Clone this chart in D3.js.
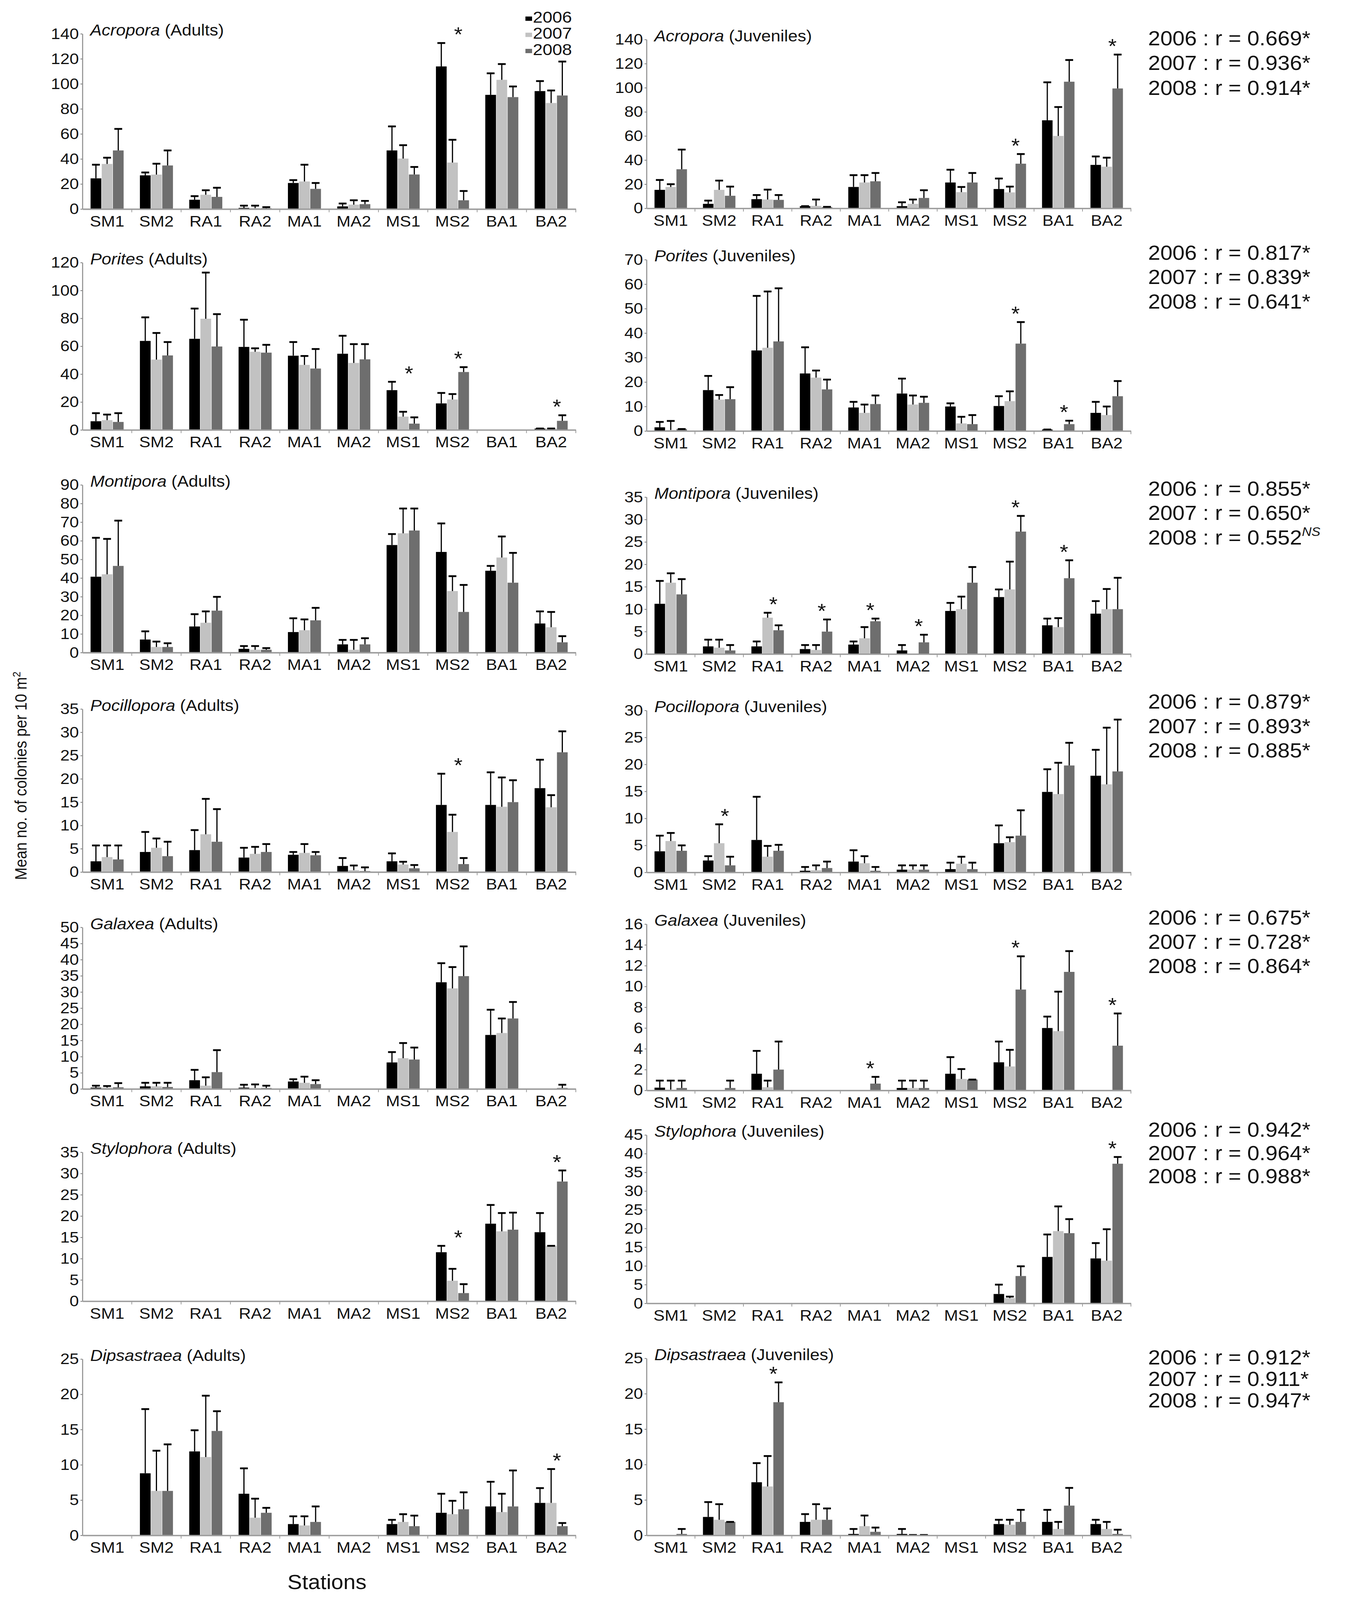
<!DOCTYPE html>
<html>
<head>
<meta charset="utf-8">
<script src="https://cdn.jsdelivr.net/npm/d3@7"></script>
<style>
  html, body { margin: 0; padding: 0; background: #fff; overflow: hidden; }
  svg { display: block; }
</style>
</head>
<body>
<script>
// stations, years, taxa
const stations = ['SM1', 'SM2', 'RA1', 'RA2', 'MA1', 'MA2', 'MS1', 'MS2', 'BA1', 'BA2'];
const years = ['2006', '2007', '2008'];
const genera = ['Acropora', 'Porites', 'Montipora', 'Pocillopora', 'Galaxea', 'Stylophora', 'Dipsastraea'];

// y axis maximum and tick step for each genus
const adultMax = [140, 120, 90, 35, 50, 35, 25];
const adultStep = [20, 20, 10, 5, 5, 5, 5];
const juvMax = [140, 70, 35, 30, 16, 45, 25];
const juvStep = [20, 10, 5, 5, 2, 5, 5];

// mean per year (2006, 2007, 2008) and upper end of error bar
const acroporaAdultMean = [
  [24.5, 26.9, 7.4, 0.9, 20.8, 2.1, 46.8, 113.9, 91.2, 94.2],
  [36, 27.5, 11.4, 0.7, 22, 3.5, 40.3, 37.1, 103.2, 84.7],
  [46.8, 34.8, 9.7, 0.6, 16.1, 3.9, 27.6, 7, 89.4, 90.7]
];
const acroporaAdultUpper = [
  [35.4, 29.2, 10.3, 2.7, 23.1, 4.4, 66, 132.6, 108.4, 102.2],
  [41, 36.2, 15, 2.7, 35.4, 7, 51, 55.3, 115.8, 94.7],
  [64, 46.8, 17, 1.5, 20.8, 6.5, 33.6, 14.4, 97.9, 117.8]
];
const acroporaJuvMean = [
  [15.3, 3.7, 7.6, 1.8, 17.7, 1.8, 21.4, 16, 73, 36],
  [17.7, 15.3, 7.3, 2, 21.4, 3.7, 13.4, 13.2, 60, 34.5],
  [32.4, 10.4, 7, 1, 22.4, 8.6, 21.4, 37, 105, 99.4]
];
const acroporaJuvUpper = [
  [23.5, 6.4, 11, 1.8, 27.5, 5, 32, 24.7, 104.5, 43],
  [20, 23, 15.5, 7.3, 27.5, 7.3, 17.7, 18, 84, 42],
  [48.7, 18, 11, 1.2, 29.3, 15, 29.3, 45, 123, 127.5]
];
const poritesAdultMean = [
  [6.2, 63.8, 65.3, 59.5, 53.2, 54.6, 28.5, 19, 0, 1],
  [7, 50.4, 79.7, 56, 46.6, 48, 9.5, 21.8, 0, 1],
  [5.7, 53.4, 59.8, 55.4, 44, 50.6, 4.5, 41.5, 0, 6.5]
];
const poritesAdultUpper = [
  [12, 80.7, 87, 79, 63, 67.5, 34.5, 26.5, 0, 1],
  [11, 69.5, 112.8, 58.5, 53, 61.5, 13, 25.7, 0, 1],
  [12, 63, 83, 61, 58, 61.5, 9, 45, 0, 10.5]
];
const poritesJuvMean = [
  [1.5, 16.7, 32.9, 23.5, 9.6, 15.3, 10, 10.2, 0.6, 7.4],
  [0.4, 12.8, 34, 21.8, 7.4, 10.8, 3.1, 12.2, 0, 6.5],
  [0.8, 13, 36.6, 17, 11, 11.5, 2.8, 35.7, 2.8, 14.2]
];
const poritesJuvUpper = [
  [3.7, 22.5, 55.2, 34.2, 11.9, 21.4, 11.3, 14.2, 0.6, 11.9],
  [4.1, 14.7, 57, 24.7, 10.8, 14.5, 5.8, 16.2, 0, 10],
  [0.8, 17.9, 58.3, 21, 14.5, 14, 6.5, 44.5, 4.2, 20.4]
];
const montiporaAdultMean = [
  [40.7, 7, 14, 2, 11, 4.4, 57.7, 54, 43.9, 15.6],
  [42, 3, 16, 1.5, 12, 1.5, 64, 33, 51, 13.6],
  [46.5, 3, 22.5, 1.5, 17.3, 4.4, 65.5, 21.8, 37.5, 5.5]
];
const montiporaAdultUpper = [
  [61.6, 11.4, 20.6, 3.5, 18.4, 6.8, 63.6, 69.3, 46.5, 22.1],
  [61, 5.9, 22.1, 3.5, 17.8, 6.8, 77.3, 41, 62.3, 21.8],
  [70.8, 5, 29.9, 2.4, 24, 7.7, 77.3, 36.3, 53.5, 8.8]
];
const montiporaJuvMean = [
  [11.2, 1.7, 1.7, 1.1, 2.1, 0.8, 9.6, 12.7, 6.4, 9],
  [15.9, 1.4, 8.1, 0.9, 3.5, 0, 10, 14.4, 6, 10],
  [13.3, 0.8, 5.3, 5, 7.3, 2.6, 15.9, 27.3, 16.9, 10]
];
const montiporaJuvUpper = [
  [16.3, 3.2, 2.8, 2, 2.8, 2, 11.4, 14.4, 7.9, 11.8],
  [18, 3.2, 9.2, 2, 6, 0, 12.8, 20.6, 8, 14.5],
  [16.7, 2, 6.4, 7.7, 7.9, 4.3, 19.4, 30.8, 20.9, 17]
];
const pocilloporaAdultMean = [
  [2.3, 4.3, 4.7, 3.1, 3.7, 1.3, 2.3, 14.4, 14.4, 18],
  [3.2, 5.2, 8.1, 3.9, 4.1, 0.4, 1.6, 8.6, 14, 13.9],
  [2.7, 3.4, 6.5, 4.3, 3.6, 0.2, 0.8, 1.7, 15, 25.7]
];
const pocilloporaAdultUpper = [
  [5.7, 8.6, 9, 5.2, 4.3, 3, 4, 21.1, 21.4, 24.1],
  [5.7, 7.2, 15.7, 5.4, 6, 1.4, 2.2, 12.3, 20.3, 16.5],
  [5.7, 6.5, 13.5, 6, 4.3, 1, 1.5, 3, 19.7, 30.2]
];
const pocilloporaJuvMean = [
  [3.9, 2.2, 6, 0.3, 2, 0.5, 0.6, 5.4, 14.9, 17.9],
  [5.8, 5.4, 2.9, 0.4, 1.7, 0.5, 1.6, 5.6, 14.5, 16.3],
  [4, 1.3, 4, 0.8, 0.3, 0.5, 0.6, 6.8, 19.8, 18.7]
];
const pocilloporaJuvUpper = [
  [6.8, 3, 14, 1, 4.1, 1.3, 1.8, 8.7, 19.1, 22.7],
  [7.3, 8.9, 4.9, 1.3, 3, 1.3, 2.9, 6.5, 20.3, 26.8],
  [5, 2.9, 5.1, 2, 1, 1.3, 1.8, 11.5, 24, 28.3]
];
const galaxeaAdultMean = [
  [0.4, 0.8, 2.7, 0.4, 2.3, 0, 8.2, 33, 16.7, 0],
  [0.4, 0.8, 1, 0.3, 1.9, 0, 9.5, 31.1, 17.3, 0],
  [0.5, 0.6, 5.2, 0.3, 1.5, 0, 9.1, 34.9, 21.8, 0.3]
];
const galaxeaAdultUpper = [
  [1, 1.9, 5.9, 1.3, 3, 0, 11.4, 38.9, 24.5, 0],
  [0.9, 1.9, 3.6, 1.4, 3.8, 0, 14.2, 37.7, 21.8, 0],
  [1.8, 1.9, 12, 1, 2.7, 0, 12.8, 44.1, 26.9, 1.3]
];
const galaxeaJuvMean = [
  [0.26, 0, 1.6, 0, 0, 0.23, 1.6, 2.7, 6, 0],
  [0.07, 0, 0.3, 0, 0, 0.23, 1.1, 2.3, 5.7, 0],
  [0.23, 0.23, 2, 0, 0.65, 0.23, 1.04, 9.7, 11.4, 4.3]
];
const galaxeaJuvUpper = [
  [0.94, 0, 3.8, 0, 0, 0.94, 3.2, 4.7, 7.1, 0],
  [0.94, 0, 0.94, 0, 0, 0.94, 2.05, 3.9, 9.5, 0],
  [0.94, 0.94, 4.7, 0, 1.3, 0.94, 1.04, 12.9, 13.4, 7.4]
];
const stylophoraAdultMean = [
  [0, 0, 0, 0, 0, 0, 0, 11.5, 18.2, 16.2],
  [0, 0, 0, 0, 0, 0, 0, 4.8, 16.4, 13],
  [0, 0, 0, 0, 0, 0, 0, 1.9, 16.8, 28.1]
];
const stylophoraAdultUpper = [
  [0, 0, 0, 0, 0, 0, 0, 13, 22.6, 20.7],
  [0, 0, 0, 0, 0, 0, 0, 7.6, 20.7, 13],
  [0, 0, 0, 0, 0, 0, 0, 4, 20.8, 30.7]
];
const stylophoraJuvMean = [
  [0, 0, 0, 0, 0, 0, 0, 2.5, 12.4, 12],
  [0, 0, 0, 0, 0, 0, 0, 1.4, 19.3, 11.4],
  [0, 0, 0, 0, 0, 0, 0, 7.3, 18.75, 37.3]
];
const stylophoraJuvUpper = [
  [0, 0, 0, 0, 0, 0, 0, 5, 18.4, 16.1],
  [0, 0, 0, 0, 0, 0, 0, 1.8, 25.9, 19.8],
  [0, 0, 0, 0, 0, 0, 0, 9.9, 22.5, 39.1]
];
const dipsastraeaAdultMean = [
  [0, 8.8, 11.9, 5.9, 1.6, 0, 1.6, 3.2, 4.1, 4.6],
  [0, 6.3, 11.1, 2.5, 1.4, 0, 1.9, 3, 3.3, 4.6],
  [0, 6.3, 14.8, 3.2, 1.9, 0, 1.3, 3.7, 4.1, 1.3]
];
const dipsastraeaAdultUpper = [
  [0, 17.9, 14.9, 9.5, 2.7, 0, 2.2, 5.9, 7.6, 6.7],
  [0, 12, 19.8, 5.2, 2.7, 0, 3, 4.9, 5.9, 9.4],
  [0, 12.9, 17.6, 3.9, 4.1, 0, 2.8, 6.1, 9.2, 1.75]
];
const dipsastraeaJuvMean = [
  [0, 2.6, 7.5, 1.9, 0.2, 0.2, 0, 1.6, 1.9, 1.6],
  [0, 2.2, 6.9, 2.2, 1.3, 0.05, 0, 1.5, 0.9, 0.9],
  [0.2, 1.9, 18.8, 2.2, 0.5, 0.05, 0, 1.9, 4.2, 0.2]
];
const dipsastraeaJuvUpper = [
  [0, 4.7, 10.2, 3, 0.9, 0.9, 0, 2.2, 3.6, 2.2],
  [0, 4.4, 11.2, 4.4, 2.8, 0.05, 0, 2.2, 1.9, 1.9],
  [0.9, 1.9, 21.6, 3.8, 1.1, 0.05, 0, 3.6, 6.7, 0.8]
];

// stations marked with an asterisk
const adultStars = [['MS2'], ['MS1', 'MS2', 'BA2'], [], ['MS2'], [], ['MS2', 'BA2'], ['BA2']];
const juvStars = [['MS2', 'BA2'], ['MS2', 'BA1'], ['RA1', 'RA2', 'MA1', 'MA2', 'MS2', 'BA1'],
  ['SM2'], ['MA1', 'MS2', 'BA2'], ['BA2'], ['RA1']];

// correlation adults vs juveniles per year
const rValues = [
  [0.669, 0.936, 0.914],
  [0.817, 0.839, 0.641],
  [0.855, 0.650, 0.552],
  [0.879, 0.893, 0.885],
  [0.675, 0.728, 0.864],
  [0.942, 0.964, 0.988],
  [0.912, 0.911, 0.947]
];
const rSignificant = [
  [true, true, true], [true, true, true], [true, true, false], [true, true, true],
  [true, true, true], [true, true, true], [true, true, true]
];

const adultMeans = [acroporaAdultMean, poritesAdultMean, montiporaAdultMean, pocilloporaAdultMean,
  galaxeaAdultMean, stylophoraAdultMean, dipsastraeaAdultMean];
const adultUppers = [acroporaAdultUpper, poritesAdultUpper, montiporaAdultUpper, pocilloporaAdultUpper,
  galaxeaAdultUpper, stylophoraAdultUpper, dipsastraeaAdultUpper];
const juvMeans = [acroporaJuvMean, poritesJuvMean, montiporaJuvMean, pocilloporaJuvMean,
  galaxeaJuvMean, stylophoraJuvMean, dipsastraeaJuvMean];
const juvUppers = [acroporaJuvUpper, poritesJuvUpper, montiporaJuvUpper, pocilloporaJuvUpper,
  galaxeaJuvUpper, stylophoraJuvUpper, dipsastraeaJuvUpper];

const W = 3443, H = 4455;
const font = '"Liberation Sans", Arial, Helvetica, sans-serif';
const colors = ['#000000', '#c2c2c2', '#6e6e6e'];
const axisGrey = '#9c9c9c';

// pixel layout of each row: zero line / top tick of left and right panels, r text
const rows = [
  {lz: 582, lt: 94, rz: 580, rt: 110, ry: 126, rg: 69},
  {lz: 1197, lt: 731, rz: 1200, rt: 723, ry: 723, rg: 68},
  {lz: 1817, lt: 1350, rz: 1821, rt: 1384, ry: 1380, rg: 68},
  {lz: 2428, lt: 1974, rz: 2429, rt: 1978, ry: 1973, rg: 68},
  {lz: 3032, lt: 2582, rz: 3036, rt: 2573, ry: 2575, rg: 67},
  {lz: 3623, lt: 3208, rz: 3629, rt: 3160, ry: 3165, rg: 65},
  {lz: 4275, lt: 3784, rz: 4275, rt: 3782, ry: 3799, rg: 60}
];
const leftCol = [211, 1474];
const rightCol = [1655, 2895];

// the 3443x4455 frame is stretched over the whole window
const svg = d3.select('body').append('svg')
  .attr('viewBox', `0 0 ${W} ${H}`)
  .attr('preserveAspectRatio', 'none')
  .style('width', '100vw')
  .style('height', '100vh')
  .style('font-family', font);

svg.append('rect').attr('width', W).attr('height', H).attr('fill', '#fff');

function panel(o) {
  const y = d3.scaleLinear().domain([0, o.max]).range([o.zero, o.top]);
  const x0 = d3.scaleBand().domain(stations).range(o.cols)
    .paddingInner(0.33).paddingOuter(0.165);
  const x1 = d3.scaleBand().domain(years).range([0, x0.bandwidth()]).paddingInner(0.04);
  const g = svg.append('g');

  // y axis
  g.append('g')
    .attr('transform', `translate(${o.cols[0]},0)`)
    .call(d3.axisLeft(y)
      .tickValues(d3.range(0, o.max + o.step / 2, o.step))
      .tickSize(5).tickPadding(4).tickSizeOuter(0))
    .call(a => a.select('.domain').attr('stroke', axisGrey).attr('stroke-width', 3))
    .call(a => a.selectAll('.tick line').attr('stroke', '#777').attr('stroke-width', 2))
    .call(a => a.selectAll('text')
      .attr('font-size', 43).attr('font-family', font).attr('fill', '#111'));

  // bars
  const data = stations.flatMap((s, j) => years.map((yr, i) => ({
    s, yr, i, v: o.mean[i][j], u: o.upper[i][j]
  })));
  const cx = d => x0(d.s) + x1(d.yr) + x1.bandwidth() / 2;

  g.append('g').selectAll('rect')
    .data(data)
    .join('rect')
    .attr('x', d => x0(d.s) + x1(d.yr))
    .attr('width', x1.bandwidth())
    .attr('y', d => y(d.v))
    .attr('height', d => o.zero - y(d.v))
    .attr('fill', d => colors[d.i]);

  // error bars
  const err = g.append('g').selectAll('g')
    .data(data.filter(d => d.u > 0))
    .join('g');
  err.append('line')
    .attr('x1', cx).attr('x2', cx)
    .attr('y1', d => y(d.v)).attr('y2', d => y(d.u))
    .attr('stroke', '#000').attr('stroke-width', 3);
  err.append('line')
    .attr('x1', d => cx(d) - 10).attr('x2', d => cx(d) + 10)
    .attr('y1', d => y(d.u)).attr('y2', d => y(d.u))
    .attr('stroke', '#000').attr('stroke-width', 5);

  // x axis
  g.append('g')
    .attr('transform', `translate(0,${o.zero})`)
    .call(d3.axisBottom(x0).tickSize(0).tickPadding(18).tickSizeOuter(0))
    .call(a => a.select('.domain').attr('stroke', axisGrey).attr('stroke-width', 4))
    .call(a => a.selectAll('text')
      .attr('font-size', 43).attr('font-family', font).attr('fill', '#111'));

  g.append('g').selectAll('line')
    .data(d3.range(1, stations.length + 1))
    .join('line')
    .attr('x1', i => o.cols[0] + i * x0.step())
    .attr('x2', i => o.cols[0] + i * x0.step())
    .attr('y1', o.zero).attr('y2', o.zero + 9)
    .attr('stroke', axisGrey).attr('stroke-width', 2);

  // asterisks
  g.append('g').selectAll('text')
    .data(o.stars)
    .join('text')
    .attr('x', s => x0(s) + x1('2008'))
    .attr('y', s => y(d3.max(o.upper, u => u[stations.indexOf(s)])) - 4)
    .attr('text-anchor', 'middle')
    .attr('font-size', 56)
    .attr('fill', '#111')
    .text('*');

  // title
  const t = g.append('text')
    .attr('x', o.cols[0] + 20)
    .attr('y', o.top + 5)
    .attr('font-size', 44)
    .attr('fill', '#111');
  t.append('tspan').attr('font-style', 'italic').text(o.genus);
  t.append('tspan').text(` (${o.stage})`);
}

genera.forEach((genus, k) => {
  const r = rows[k];
  panel({
    cols: leftCol, zero: r.lz, top: r.lt, max: adultMax[k], step: adultStep[k],
    mean: adultMeans[k], upper: adultUppers[k], stars: adultStars[k],
    genus, stage: 'Adults'
  });
  panel({
    cols: rightCol, zero: r.rz, top: r.rt, max: juvMax[k], step: juvStep[k],
    mean: juvMeans[k], upper: juvUppers[k], stars: juvStars[k],
    genus, stage: 'Juveniles'
  });

  // correlation text
  const fmt = d3.format('.3f');
  years.forEach((yr, i) => {
    const txt = svg.append('text')
      .attr('x', 2939)
      .attr('y', r.ry + i * r.rg)
      .attr('font-size', 56)
      .attr('fill', '#111')
      .text(`${yr} : r = ${fmt(rValues[k][i])}${rSignificant[k][i] ? '*' : ''}`);
    if (!rSignificant[k][i]) {
      txt.append('tspan')
        .attr('font-size', 34)
        .attr('font-style', 'italic')
        .attr('dy', -24)
        .text('NS');
    }
  });
});

// legend
const legend = svg.append('g');
years.forEach((yr, i) => {
  legend.append('rect')
    .attr('x', 1345).attr('y', 46 + i * 45)
    .attr('width', 17).attr('height', 12)
    .attr('fill', colors[i]);
  legend.append('text')
    .attr('x', 1364).attr('y', 63 + i * 45)
    .attr('font-size', 45)
    .attr('fill', '#111')
    .text(yr);
});

// axis titles
const yl = svg.append('text')
  .attr('transform', 'translate(68,2160) rotate(-90)')
  .attr('text-anchor', 'middle')
  .attr('font-size', 42)
  .attr('fill', '#111')
  .text('Mean no. of colonies per 10 m');
yl.append('tspan').attr('font-size', 28).attr('dy', -16).text('2');

svg.append('text')
  .attr('x', 837).attr('y', 4425)
  .attr('text-anchor', 'middle')
  .attr('font-size', 56)
  .attr('fill', '#111')
  .text('Stations');
</script>
</body>
</html>
